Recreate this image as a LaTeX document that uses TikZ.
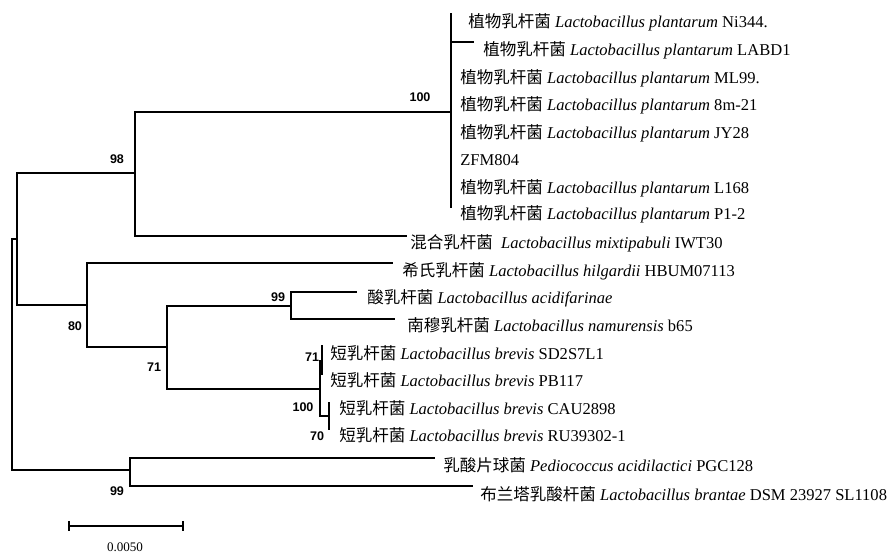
\documentclass[tikz,border=0pt]{standalone}
\usepackage{fontspec}
\setmainfont{Liberation Serif}
\newfontfamily\cjk{Noto Sans CJK SC}
\newfontfamily\bsfont{Liberation Sans}
\usepackage{tikz}

\newcommand{\taxon}[3]{{\cjk #1} \textit{#2} #3}
\tikzset{
  branch/.style={line width=1.5pt},
  taxlab/.style={anchor=base west, inner sep=0pt, font=\fontsize{12.4}{14}\selectfont},
  boot/.style={inner sep=0pt, font=\bsfont\bfseries\fontsize{9.4}{10}\selectfont},
}

\begin{document}
\begin{tikzpicture}[x=0.75pt, y=-0.75pt]
  \useasboundingbox (0,0) rectangle (896,553);
  % inner nodes
  \coordinate (r) at (12,354);
  \coordinate (nA) at (17,239);
  \coordinate (n98) at (135,173);
  \coordinate (n100) at (451,112);
  \coordinate (n80) at (87,305);
  \coordinate (n71) at (167,347);
  \coordinate (n99) at (291,306);
  \coordinate (nB) at (320,389);
  \coordinate (n71s) at (322,361);
  \coordinate (n70) at (329,416);
  \coordinate (nP) at (130,470);
  % leaf ends
  \coordinate (p1) at (451,13);
  \coordinate (p8) at (451,208);
  \coordinate (labd) at (474,42);
  \coordinate (mix) at (407,236);
  \coordinate (hil) at (393,263);
  \coordinate (acid) at (357,292);
  \coordinate (nam) at (395,319);
  \coordinate (sd) at (322,345);
  \coordinate (pb) at (322,375);
  \coordinate (cau) at (329,402);
  \coordinate (ru) at (329,430);
  \coordinate (ped) at (435,458);
  \coordinate (bra) at (473,486);

  \draw[branch] (r) |- (nA);
  \draw[branch] (r) |- (nP);
  \draw[branch] (nA) |- (n98);
  \draw[branch] (nA) |- (n80);
  \draw[branch] (n98) |- (n100);
  \draw[branch] (n98) |- (mix);
  \draw[branch] (p1) -- (p8);
  \draw[branch] (n100) |- (labd);
  \draw[branch] (n80) |- (hil);
  \draw[branch] (n80) |- (n71);
  \draw[branch] (n71) |- (n99);
  \draw[branch] (n71) |- (nB);
  \draw[branch] (n99) |- (acid);
  \draw[branch] (n99) |- (nam);
  \draw[branch] (nB) |- (n71s);
  \draw[branch] (nB) |- (n70);
  \draw[branch] (n71s) |- (sd);
  \draw[branch] (n71s) |- (pb);
  \draw[branch] (n70) |- (cau);
  \draw[branch] (n70) |- (ru);
  \draw[branch] (nP) |- (ped);
  \draw[branch] (nP) |- (bra);

  % taxa
  \node[taxlab] (tNi) at (468,27) {\taxon{植物乳杆菌}{Lactobacillus plantarum}{Ni344.}};
  \node[taxlab] (tLABD) at (483,55) {\taxon{植物乳杆菌}{Lactobacillus plantarum}{LABD1}};
  \foreach \y/\s in {83/ML99., 110/8m-21, 138/JY28, 193/L168, 219/P1-2}
    \node[taxlab] (t\y) at (460,\y) {\taxon{植物乳杆菌}{Lactobacillus plantarum}{\s}};
  \node[taxlab] (tZFM) at (460,165) {ZFM804};
  \node[taxlab] (tMix) at (410,248) {{\cjk 混合乳杆菌}\ \ \textit{Lactobacillus mixtipabuli} IWT30};
  \node[taxlab] (tHil) at (402,276) {\taxon{希氏乳杆菌}{Lactobacillus hilgardii}{HBUM07113}};
  \node[taxlab] (tAcid) at (367,303) {{\cjk 酸乳杆菌} \textit{Lactobacillus acidifarinae}};
  \node[taxlab] (tNam) at (407,331) {\taxon{南穆乳杆菌}{Lactobacillus namurensis}{b65}};
  \node[taxlab] (tSD) at (330,359) {\taxon{短乳杆菌}{Lactobacillus brevis}{SD2S7L1}};
  \node[taxlab] (tPB) at (330,386) {\taxon{短乳杆菌}{Lactobacillus brevis}{PB117}};
  \node[taxlab] (tCAU) at (339,414) {\taxon{短乳杆菌}{Lactobacillus brevis}{CAU2898}};
  \node[taxlab] (tRU) at (339,441) {\taxon{短乳杆菌}{Lactobacillus brevis}{RU39302-1}};
  \node[taxlab] (tPed) at (443,471) {\taxon{乳酸片球菌}{Pediococcus acidilactici}{PGC128}};
  \node[taxlab] (tBra) at (480,500) {\taxon{布兰塔乳酸杆菌}{Lactobacillus brantae}{DSM 23927 SL1108}};

  % bootstrap values
  \node[boot] (b100) at (420,97) {100};
  \node[boot] (b98) at (117,159) {98};
  \node[boot] (b99a) at (278,297) {99};
  \node[boot] (b80) at (75,326) {80};
  \node[boot] (b71) at (154,367) {71};
  \node[boot] (b71s) at (312,357) {71};
  \node[boot] (b100s) at (303,407) {100};
  \node[boot] (b70) at (317,436) {70};
  \node[boot] (b99b) at (117,491) {99};

  % scale bar
  \coordinate (sbl) at (69,526);
  \coordinate (sbr) at (183,526);
  \draw[branch] (sbl) -- (sbr);
  \draw[line width=1.2pt] ([yshift=3.8pt]sbl) -- ([yshift=-3.8pt]sbl);
  \draw[line width=1.2pt] ([yshift=3.8pt]sbr) -- ([yshift=-3.8pt]sbr);
  \node[font=\fontsize{9.8}{11}\selectfont, inner sep=0pt] (sbt) at (125,547) {0.0050};
\end{tikzpicture}
\end{document}
